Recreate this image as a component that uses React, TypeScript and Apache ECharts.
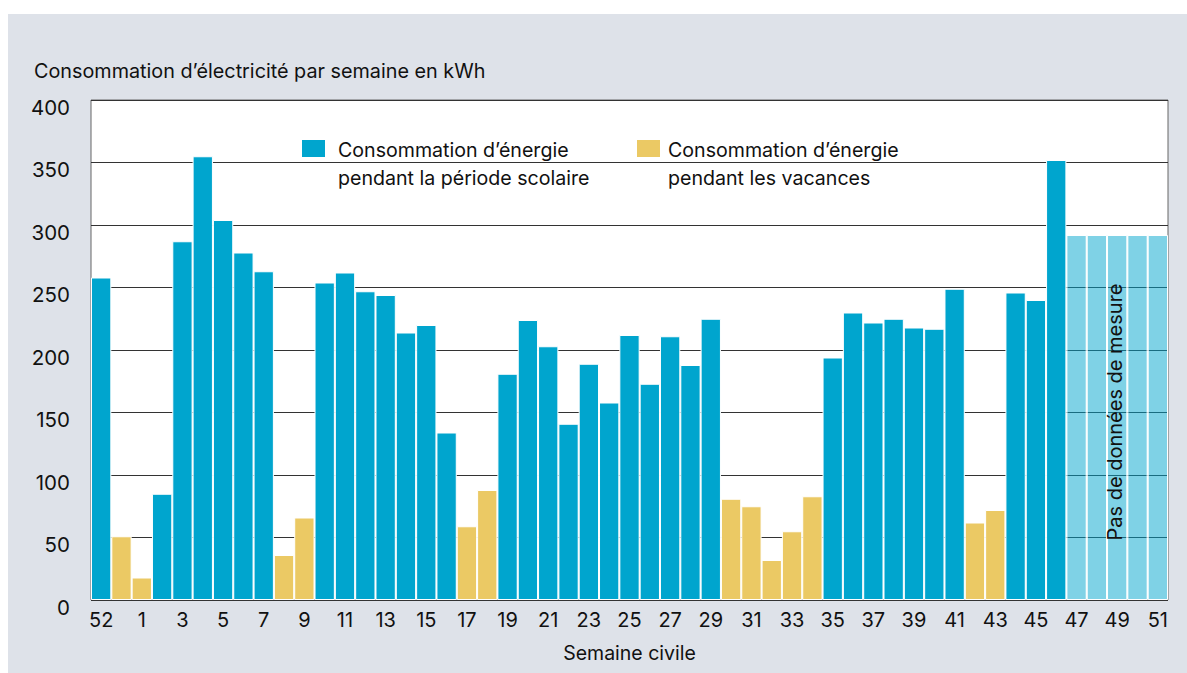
import React, { useEffect, useRef } from "react";
import * as echarts from "echarts";

// Calendar weeks (category axis)
const weekLabels = [
  "52", "53", "1", "2", "3", "4", "5", "6", "7", "8", "9", "10", "11", "12", "13", "14",
  "15", "16", "17", "18", "19", "20", "21", "22", "23", "24", "25", "26", "27", "28", "29",
  "30", "31", "32", "33", "34", "35", "36", "37", "38", "39", "40", "41", "42", "43", "44",
  "45", "46", "47", "48", "49", "50", "51",
];

// Weekly electricity consumption in kWh (no-data weeks: height of the shaded fill)
const consumption = [
  258, 51, 18, 85, 287, 355, 304, 278, 263, 36, 66, 254, 262, 247, 244, 214,
  220, 134, 59, 88, 181, 224, 203, 141, 189, 158, 212, 173, 211, 188, 225,
  81, 75, 32, 55, 83, 194, 230, 222, 225, 218, 217, 249, 62, 72,
  246, 240, 352, 292, 292, 292, 292, 292,
];

// S = school period, V = holidays, N = no measurement data
const periods = [
  "S", "V", "V", "S", "S", "S", "S", "S", "S", "V", "V", "S", "S", "S", "S", "S",
  "S", "S", "V", "V", "S", "S", "S", "S", "S", "S", "S", "S", "S", "S", "S",
  "V", "V", "V", "V", "V", "S", "S", "S", "S", "S", "S", "S", "V", "V",
  "S", "S", "S", "N", "N", "N", "N", "N",
];

const yTicks = { min: 0, max: 400, interval: 50 };

const title = "Consommation d’électricité par semaine en kWh";
const legendSchool = "Consommation d’énergie\npendant la période scolaire";
const legendHoliday = "Consommation d’énergie\npendant les vacances";
const noDataText = "Pas de données de mesure";
const xName = "Semaine civile";

const FONT = "Inter, 'Noto Sans', sans-serif";
const BLUE = "#00a5ce";
const YELLOW = "#ebc964";
const LIGHT = "rgba(0,165,206,0.5)";
const BG = "#dee2e9";

export default function App() {
  const ref = useRef<HTMLDivElement>(null);

  useEffect(() => {
    const chart = echarts.init(ref.current!, null, { renderer: "svg" });
    const pick = (p: string) =>
      consumption.map((v, i) => (periods[i] === p ? v : null));

    const barBase = {
      type: "bar",
      stack: "w",
      barCategoryGap: "0%",
      silent: true,
    };

    chart.setOption({
      animation: false,
      backgroundColor: BG,
      textStyle: { fontFamily: FONT },
      grid: {
        left: 83,
        top: 86,
        right: 19,
        bottom: 73,
        show: true,
        backgroundColor: "#ffffff",
        borderColor: "#666666",
        borderWidth: 1,
      },
      xAxis: {
        type: "category",
        data: weekLabels,
        axisLine: { show: false },
        axisTick: { show: false },
        axisLabel: {
          interval: 1,
          fontSize: 20,
          color: "#111",
          margin: 10,
          fontFamily: FONT,
        },
        name: xName,
        nameLocation: "middle",
        nameGap: 43,
        nameTextStyle: { fontSize: 19.5, color: "#111", fontFamily: FONT },
      },
      yAxis: {
        type: "value",
        min: yTicks.min,
        max: yTicks.max,
        interval: yTicks.interval,
        axisLine: { show: false },
        axisTick: { show: false },
        splitLine: { lineStyle: { color: "#333333", width: 1 } },
        axisLabel: {
          fontSize: 20.5,
          color: "#111",
          margin: 21,
          align: "right",
          verticalAlign: "top",
          lineHeight: 14,
          fontFamily: FONT,
        },
      },
      series: [
        {
          ...barBase,
          name: "school",
          data: pick("S"),
          itemStyle: { color: BLUE, borderColor: "#ffffff", borderWidth: 1 },
        },
        {
          ...barBase,
          name: "holiday",
          data: pick("V"),
          itemStyle: { color: YELLOW, borderColor: "#ffffff", borderWidth: 1 },
        },
        {
          ...barBase,
          name: "nodata",
          data: pick("N"),
          itemStyle: { color: LIGHT, borderColor: "#ffffff", borderWidth: 1 },
        },
      ],
      graphic: [
        {
          type: "text",
          x: 26,
          y: 56.5,
          style: {
            text: title,
            fontSize: 19.8,
            fontFamily: FONT,
            fill: "#111",
            verticalAlign: "middle",
          },
        },
        {
          type: "rect",
          shape: { x: 294, y: 126, width: 23, height: 17 },
          style: { fill: BLUE },
          z: 10,
        },
        {
          type: "text",
          x: 330,
          y: 150,
          z: 10,
          style: {
            text: legendSchool,
            fontSize: 19.6,
            lineHeight: 28,
            fontFamily: FONT,
            fill: "#111",
            verticalAlign: "middle",
          },
        },
        {
          type: "rect",
          shape: { x: 629, y: 126, width: 23, height: 17 },
          style: { fill: YELLOW },
          z: 10,
        },
        {
          type: "text",
          x: 660,
          y: 150,
          z: 10,
          style: {
            text: legendHoliday,
            fontSize: 19.6,
            lineHeight: 28,
            fontFamily: FONT,
            fill: "#111",
            verticalAlign: "middle",
          },
        },
        {
          type: "text",
          x: 1107,
          y: 398,
          rotation: Math.PI / 2,
          z: 10,
          style: {
            text: noDataText,
            fontSize: 20,
            fontFamily: FONT,
            fill: "#111",
            align: "center",
            verticalAlign: "middle",
          },
        },
      ],
    });

    return () => chart.dispose();
  }, []);

  return (
    <div
      ref={ref}
      style={{ position: "fixed", left: 8, top: 14, width: 1179, height: 659 }}
    />
  );
}
